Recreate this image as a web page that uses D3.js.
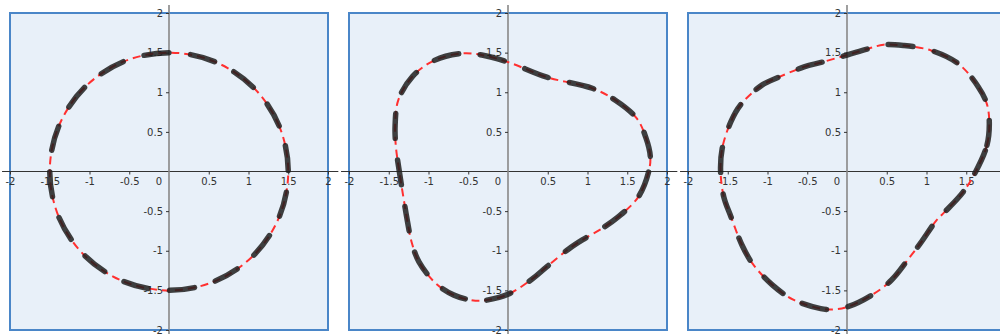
<!DOCTYPE html>
<html>
<head>
<meta charset="utf-8">
<script src="https://cdn.jsdelivr.net/npm/d3@7"></script>
<style>
  body { margin: 0; background: #fff; }
  svg { display: block; font-family: "DejaVu Sans", sans-serif; }
  .tick text { fill: #333; font-size: 10px; }
  .tick line { stroke: #333; }
</style>
</head>
<body>
<svg id="chart" width="1000" height="334"></svg>
<script>
// tick values shared by both axes of every panel
var tickValues = [-2, -1.5, -1, -0.5, 0.5, 1, 1.5, 2];
var tickLabels = ["-2", "-1.5", "-1", "-0.5", "0.5", "1", "1.5", "2"];

// closed curves, starting on the +x axis, counter-clockwise
var circleShape = [
    [1.5, 0], [1.386, 0.574], [1.061, 1.061], [0.574, 1.386],
    [0, 1.5], [-0.574, 1.386], [-1.061, 1.061], [-1.386, 0.574],
    [-1.5, 0], [-1.386, -0.574], [-1.061, -1.061], [-0.574, -1.386],
    [0, -1.5], [0.574, -1.386], [1.061, -1.061], [1.386, -0.574]
];

var triShape = [
    [1.77, 0], [1.79, 0.19], [1.73, 0.44], [1.62, 0.67], [1.35, 0.9],
    [1.06, 1.05], [0.49, 1.19], [0, 1.38], [-0.33, 1.47], [-0.58, 1.49],
    [-0.93, 1.40], [-1.20, 1.20], [-1.38, 0.9], [-1.42, 0.58], [-1.41, 0.31],
    [-1.37, 0.02], [-1.31, -0.36], [-1.27, -0.6], [-1.21, -0.9], [-1.12, -1.14],
    [-0.91, -1.41], [-0.68, -1.56], [-0.41, -1.63], [-0.25, -1.62], [0, -1.55],
    [0.30, -1.36], [0.49, -1.2], [0.76, -0.98], [0.94, -0.86], [1.18, -0.72],
    [1.39, -0.57], [1.64, -0.32]
];

var blobShape = [
    [1.62, 0], [1.76, 0.33], [1.79, 0.61], [1.76, 0.85], [1.65, 1.07],
    [1.40, 1.36], [1.05, 1.53], [0.71, 1.59], [0.46, 1.60], [0.27, 1.55],
    [0, 1.47], [-0.31, 1.38], [-0.54, 1.32], [-0.86, 1.19], [-1.07, 1.09],
    [-1.34, 0.84], [-1.46, 0.63], [-1.57, 0.29], [-1.59, 0], [-1.55, -0.32],
    [-1.46, -0.57], [-1.32, -0.93], [-1.19, -1.16], [-0.94, -1.43], [-0.67, -1.62],
    [-0.33, -1.73], [-0.17, -1.74], [0, -1.71], [0.31, -1.56], [0.56, -1.37],
    [0.79, -1.08], [0.92, -0.91], [1.13, -0.61], [1.23, -0.51], [1.46, -0.26]
];

var shapes = [circleShape, triShape, blobShape];

var svg = d3.select("#chart");
var half = 159, boxTop = 13, boxBottom = 330;

function drawPanel(shape, i) {
    var cx = 169 + i * 339;
    var x = d3.scaleLinear().domain([-2, 2]).range([cx - half, cx + half]);
    var y = d3.scaleLinear().domain([-2, 2]).range([boxBottom, boxTop]);
    var g = svg.append("g").attr("class", "panel");

    g.append("rect")
        .attr("x", x(-2)).attr("y", y(2))
        .attr("width", x(2) - x(-2)).attr("height", y(-2) - y(2))
        .attr("fill", "#e8f0f9")
        .attr("stroke", "#4a86c8")
        .attr("stroke-width", 2);

    // axis lines run a little past the box
    g.append("line")
        .attr("x1", x(-2.1)).attr("x2", x(2.13))
        .attr("y1", y(0)).attr("y2", y(0))
        .attr("stroke", "#333").attr("stroke-width", 1.2);
    g.append("line")
        .attr("x1", x(0)).attr("x2", x(0))
        .attr("y1", y(2.1)).attr("y2", y(-2.1))
        .attr("stroke", "#888").attr("stroke-width", 1.6);

    var xa = g.append("g")
        .attr("transform", "translate(0," + y(0) + ")")
        .call(d3.axisBottom(x).tickValues(tickValues)
            .tickFormat(function (d, k) { return tickLabels[k]; })
            .tickSize(3).tickSizeOuter(0));
    xa.select(".domain").remove();
    xa.attr("font-family", null).attr("font-size", null);

    var ya = g.append("g")
        .attr("transform", "translate(" + x(0) + ",0)")
        .call(d3.axisLeft(y).tickValues(tickValues)
            .tickFormat(function (d, k) { return tickLabels[k]; })
            .tickSize(3).tickSizeOuter(0));
    ya.select(".domain").remove();
    ya.attr("font-family", null).attr("font-size", null);

    g.append("text")
        .attr("x", x(0) - 10).attr("y", y(0) + 13)
        .attr("text-anchor", "middle")
        .attr("fill", "#333").attr("font-size", 10)
        .text("0");

    var line = d3.line()
        .x(function (d) { return x(d[0]); })
        .y(function (d) { return y(d[1]); })
        .curve(d3.curveCatmullRomClosed.alpha(0.5));

    g.append("path")
        .datum(shape)
        .attr("d", line)
        .attr("fill", "none")
        .attr("stroke", "#ff3030")
        .attr("stroke-width", 2)
        .attr("stroke-dasharray", "8,5");

    g.append("path")
        .datum(shape)
        .attr("d", line)
        .attr("fill", "none")
        .attr("stroke", "#1e1e1e")
        .attr("stroke-opacity", 0.85)
        .attr("stroke-width", 5.5)
        .attr("stroke-linecap", "round")
        .attr("stroke-dasharray", "25,21.8");
}

shapes.forEach(drawPanel);
</script>
</body>
</html>
